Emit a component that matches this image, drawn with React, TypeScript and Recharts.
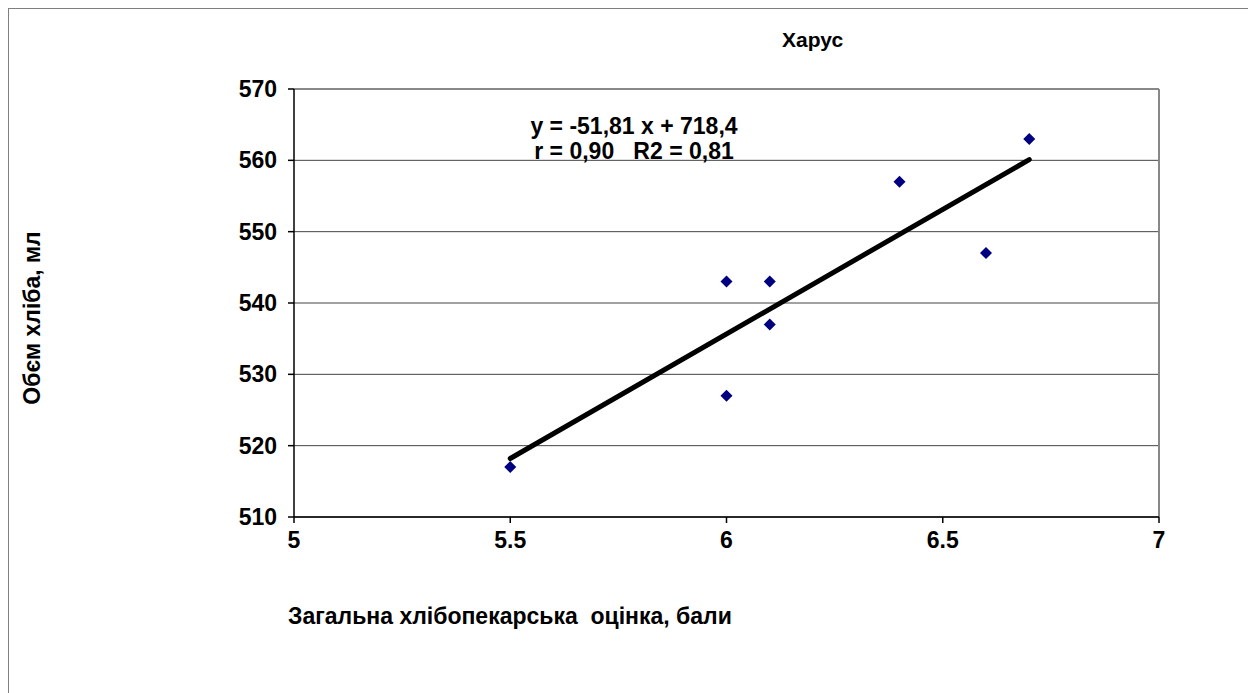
import * as React from "react";
import {
  CartesianGrid,
  ReferenceLine,
  Scatter,
  ScatterChart,
  XAxis,
  YAxis,
} from "recharts";

// Загальна хлібопекарська оцінка (бали) vs об'єм хліба (мл)
const scores = [5.5, 6.0, 6.0, 6.1, 6.1, 6.4, 6.6, 6.7];
const volumes = [517, 543, 527, 543, 537, 557, 547, 563];

// trend line ends as drawn in the picture
const trendX = [5.5, 6.7];
const trendY = [518.2, 560.1];

const xTicks = [5, 5.5, 6, 6.5, 7];
const yTicks = [510, 520, 530, 540, 550, 560, 570];

const points = scores.map((x, i) => ({ x, y: volumes[i] }));
const trend = trendX.map((x, i) => ({ x, y: trendY[i] }));

const FONT = '"Liberation Sans", Arial, sans-serif';

function Diamond(props: any) {
  const { cx, cy } = props;
  const r = 6;
  return (
    <polygon
      points={`${cx},${cy - r} ${cx + r},${cy} ${cx},${cy + r} ${cx - r},${cy}`}
      fill="#000080"
    />
  );
}

const tickStyle = { fill: "#000", fontSize: 23, fontWeight: 700, fontFamily: FONT };

export default function App() {
  return (
    <div
      style={{
        position: "relative",
        width: 1243,
        height: 700,
        border: "1px solid #808080",
        boxSizing: "border-box",
        fontFamily: FONT,
        background: "#fff",
      }}
    >
      <ScatterChart
        width={1241}
        height={685}
        margin={{ top: 80, right: 91, bottom: 137, left: 225 }}
      >
        <CartesianGrid vertical={false} stroke="#444" strokeWidth={1} />
        <XAxis
          type="number"
          dataKey="x"
          domain={[5, 7]}
          ticks={xTicks}
          tick={tickStyle}
          tickSize={6}
          tickMargin={9}
          stroke="#000"
          strokeWidth={1.5}
          height={40}
        />
        <YAxis
          type="number"
          dataKey="y"
          domain={[510, 570]}
          ticks={yTicks}
          tick={tickStyle}
          tickSize={6}
          tickMargin={11}
          stroke="#000"
          strokeWidth={1.5}
          width={60}
        />
        <ReferenceLine x={7} stroke="#888" strokeWidth={2} />
        <ReferenceLine y={570} stroke="#888" strokeWidth={2} />
        <ReferenceLine
          segment={trend}
          stroke="#000"
          strokeWidth={5}
          strokeLinecap="round"
        />
        <Scatter data={points} shape={<Diamond />} isAnimationActive={false} />
      </ScatterChart>

      <div
        style={{
          position: "absolute",
          left: 773,
          top: 19,
          fontSize: 21,
          fontWeight: 700,
        }}
      >
        Харус
      </div>

      <div
        style={{
          position: "absolute",
          left: 505,
          top: 105,
          width: 240,
          textAlign: "center",
          fontSize: 23,
          fontWeight: 700,
          lineHeight: "25px",
          whiteSpace: "pre",
        }}
      >
        <div>{"y = -51,81 x + 718,4"}</div>
        <div>{"r = 0,90   R2 = 0,81"}</div>
      </div>

      <div
        style={{
          position: "absolute",
          left: 279,
          top: 594,
          fontSize: 23,
          fontWeight: 700,
          whiteSpace: "pre",
        }}
      >
        {"Загальна хлібопекарська  оцінка, бали"}
      </div>

      <div
        style={{
          position: "absolute",
          left: 23,
          top: 309,
          fontSize: 23,
          fontWeight: 700,
          whiteSpace: "nowrap",
          transform: "translate(-50%, -50%) rotate(-90deg)",
        }}
      >
        Обєм хліба, мл
      </div>
    </div>
  );
}
